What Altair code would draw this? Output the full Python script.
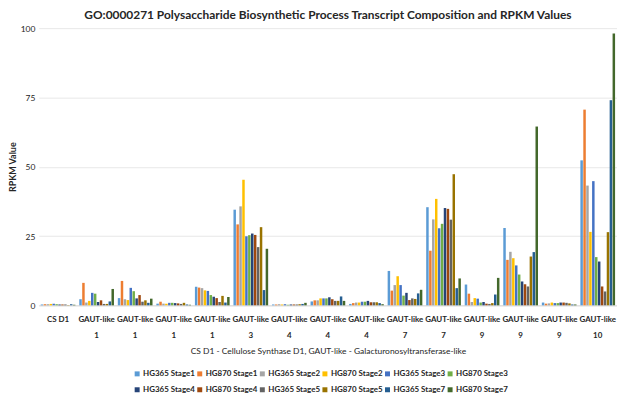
import altair as alt
import pandas as pd

categories = ["CS D1", "GAUT-like|1", "GAUT-like|1", "GAUT-like|1", "GAUT-like|1",
              "GAUT-like|3", "GAUT-like|4", "GAUT-like|4", "GAUT-like|4",
              "GAUT-like|7", "GAUT-like|7", "GAUT-like|9", "GAUT-like|9",
              "GAUT-like|9", "GAUT-like|10"]

series_names = ["HG365 Stage1", "HG870 Stage1", "HG365 Stage2", "HG870 Stage2",
                "HG365 Stage3", "HG870 Stage3", "HG365 Stage4", "HG870 Stage4",
                "HG365 Stage5", "HG870 Stage5", "HG365 Stage7", "HG870 Stage7"]

colors = ["#5B9BD5", "#ED7D31", "#A5A5A5", "#FFC000", "#4472C4", "#70AD47",
          "#264478", "#9E480E", "#636363", "#997300", "#255E91", "#43682B"]

hg365_s1 = [0.3, 2.2, 2.6, 0.6, 6.7, 34.5, 0.3, 1.4, 0.5, 12.4, 35.4, 7.5, 27.9, 1.0, 52.3]
hg870_s1 = [0.4, 8.1, 8.8, 1.3, 6.4, 29.2, 0.3, 1.8, 0.8, 5.3, 19.7, 4.2, 16.4, 0.6, 70.6]
hg365_s2 = [0.4, 1.0, 2.2, 0.6, 6.2, 35.7, 0.4, 1.8, 1.0, 7.3, 31.0, 1.2, 19.3, 0.7, 43.2]
hg870_s2 = [0.5, 1.6, 1.9, 0.6, 5.4, 45.3, 0.3, 2.5, 1.0, 10.5, 38.4, 2.6, 17.0, 1.0, 26.5]
hg365_s3 = [0.6, 4.5, 6.3, 0.9, 5.2, 24.9, 0.4, 2.5, 1.3, 7.3, 27.8, 2.4, 14.4, 0.8, 44.8]
hg870_s3 = [0.4, 4.2, 5.1, 0.9, 3.7, 25.3, 0.2, 2.5, 1.3, 3.5, 29.4, 1.0, 11.1, 0.8, 17.4]
hg365_s4 = [0.3, 1.2, 2.5, 0.8, 3.1, 25.9, 0.3, 2.9, 1.6, 4.5, 35.1, 1.2, 8.6, 1.0, 15.8]
hg870_s4 = [0.3, 1.8, 3.7, 0.7, 2.6, 25.4, 0.3, 2.2, 1.1, 1.9, 34.8, 0.6, 7.6, 1.0, 6.8]
hg365_s5 = [0.3, 0.5, 1.3, 0.5, 1.2, 21.0, 0.3, 1.6, 1.1, 2.5, 30.9, 0.5, 6.8, 0.9, 5.0]
hg870_s5 = [0.1, 0.5, 1.8, 0.9, 3.4, 28.2, 0.4, 1.6, 1.1, 2.3, 47.3, 0.8, 17.6, 0.7, 26.4]
hg365_s7 = [0.4, 1.4, 0.9, 0.3, 1.0, 5.5, 0.5, 3.2, 0.8, 4.3, 6.2, 3.9, 19.2, 0.3, 74.0]
hg870_s7 = [0.2, 5.9, 2.4, 0.2, 3.0, 20.4, 0.9, 1.6, 0.4, 5.6, 9.7, 9.9, 64.5, 0.3, 98.1]

series_values = [hg365_s1, hg870_s1, hg365_s2, hg870_s2, hg365_s3, hg870_s3,
                 hg365_s4, hg870_s4, hg365_s5, hg870_s5, hg365_s7, hg870_s7]

rows = []
for name, vals in zip(series_names, series_values):
    for i, v in enumerate(vals):
        rows.append({"idx": i, "series": name, "value": v})
df = pd.DataFrame(rows)

label_array = "[" + ",".join("'" + c + "'" for c in categories) + "]"
label_expr = "split(" + label_array + "[datum.value], '|')"

FONT = "Lato"

chart = alt.Chart(df).mark_bar().encode(
    x=alt.X("idx:O",
            scale=alt.Scale(paddingInner=0.1, paddingOuter=0.05),
            axis=alt.Axis(title="CS D1 - Cellulose Synthase D1, GAUT-like - Galacturonosyltransferase-like",
                          labelExpr=label_expr, labelAngle=0, labelFontSize=8,
                          labelFontWeight="bold", labelColor="#262626",
                          labelLineHeight=16, ticks=False, domainColor="#d9d9d9",
                          titleFontSize=8.5, titleFontWeight="normal", titleColor="#262626",
                          titlePadding=7, labelPadding=10)),
    xOffset=alt.XOffset("series:N", sort=series_names,
                        scale=alt.Scale(paddingInner=0.15)),
    y=alt.Y("value:Q",
            scale=alt.Scale(domain=[0, 100]),
            axis=alt.Axis(title="RPKM Value", values=[0, 25, 50, 75, 100],
                          domain=False, ticks=False, labelFontSize=8.5,
                          labelColor="#262626", gridColor="#e8e8e8",
                          labelPadding=4,
                          titleFontSize=9, titleFontWeight="bold",
                          titleColor="#262626", titlePadding=3)),
    color=alt.Color("series:N", sort=series_names,
                    scale=alt.Scale(domain=series_names, range=colors),
                    legend=alt.Legend(title=None, orient="none", legendX=95, legendY=344,
                                      columns=6, direction="horizontal",
                                      symbolType="square", symbolSize=25,
                                      labelFontSize=8, labelFontWeight="bold",
                                      labelColor="#262626", labelOffset=2,
                                      columnPadding=0, rowPadding=8,
                                      symbolStrokeWidth=0)),
).properties(
    width=582,
    height=279,
    padding={"left": 0, "right": 0, "top": 0, "bottom": 0},
    title=alt.TitleParams("GO:0000271 Polysaccharide Biosynthetic Process Transcript Composition and RPKM Values",
                          fontSize=12, font=FONT, fontWeight="bold", color="#262626",
                          anchor="middle", offset=2),
).configure(font=FONT).configure_view(stroke=None)

chart.save("out.html", embed_options={"renderer": "svg", "actions": False})
